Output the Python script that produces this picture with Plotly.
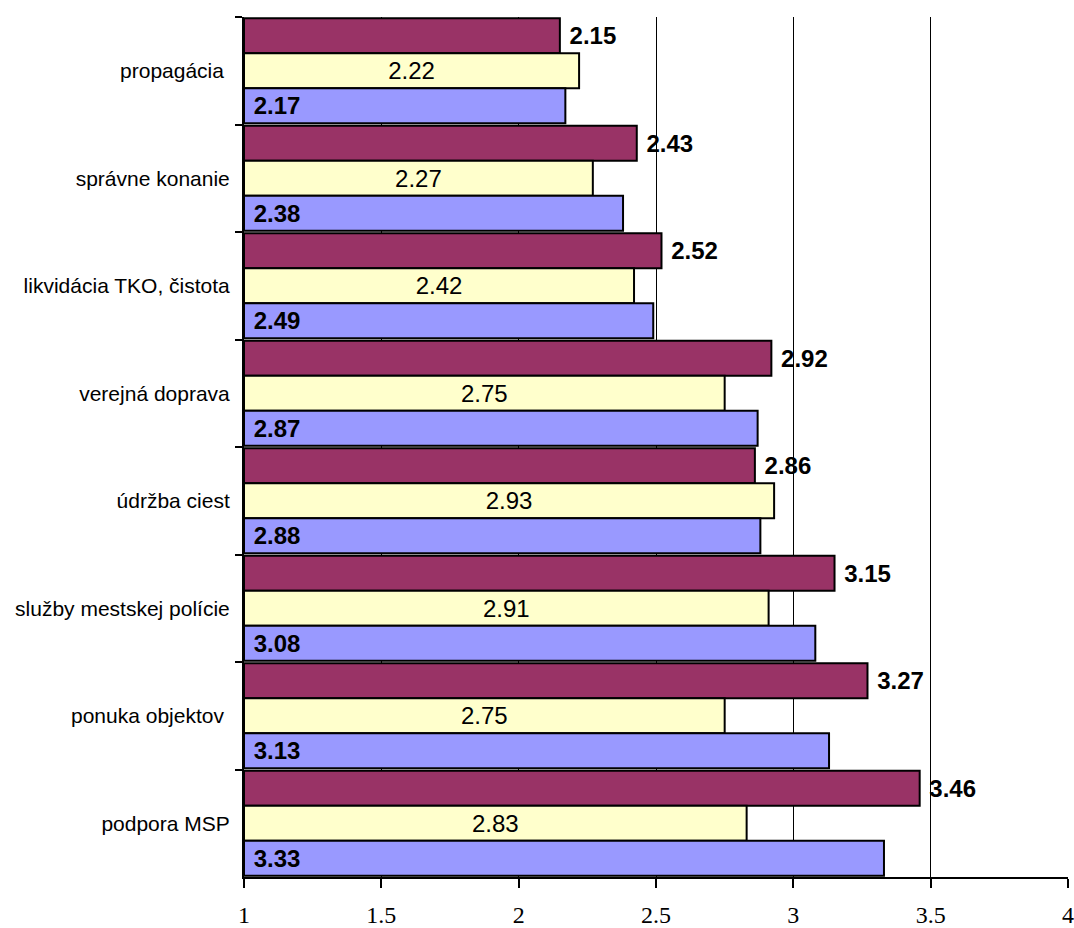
import plotly.graph_objects as go

categories = ["propagácia ", "správne konanie", "likvidácia TKO, čistota", "verejná doprava",
              "údržba ciest", "služby mestskej polície", "ponuka objektov ", "podpora MSP"]
series_maroon = [2.15, 2.43, 2.52, 2.92, 2.86, 3.15, 3.27, 3.46]
series_yellow = [2.22, 2.27, 2.42, 2.75, 2.93, 2.91, 2.75, 2.83]
series_blue = [2.17, 2.38, 2.49, 2.87, 2.88, 3.08, 3.13, 3.33]
x_ticks = [1, 1.5, 2, 2.5, 3, 3.5, 4]
x_tick_labels = ["1", "1.5", "2", "2.5", "3", "3.5", "4"]
axis_base = 1

fig = go.Figure()

def add(vals, color, pos, anchor, weight, tmpl):
    fig.add_trace(go.Bar(
        y=categories, x=[v - axis_base for v in vals], base=axis_base, orientation="h",
        marker=dict(color=color, line=dict(color="black", width=2)),
        text=[f"{v:.2f}" for v in vals], texttemplate=tmpl,
        textposition=pos, insidetextanchor=anchor,
        textfont=dict(family="Liberation Sans, Arial", size=24, color="black", weight=weight),
        constraintext="none", cliponaxis=False, showlegend=False,
    ))

add(series_maroon, "#993366", "outside", None, "bold", " %{text}")
add(series_yellow, "#FFFFCC", "inside", "middle", "normal", "%{text}")
add(series_blue, "#9999FF", "inside", "start", "bold", " %{text}")

fig.update_layout(
    width=1074, height=928,
    margin=dict(l=244, r=6, t=17, b=51),
    paper_bgcolor="white", plot_bgcolor="white",
    barmode="group", bargap=0.025, bargroupgap=0,
    xaxis=dict(range=[1, 4], tickvals=x_ticks, ticktext=x_tick_labels, automargin=False,
               ticklabeloverflow="allow", ticklabelstandoff=6,
               showgrid=True, gridcolor="black", gridwidth=1,
               showline=True, linecolor="black", linewidth=2,
               ticks="outside", ticklen=9, tickwidth=2, tickcolor="black",
               tickfont=dict(family="Liberation Serif", size=24, color="black"),
               zeroline=False, fixedrange=True),
    yaxis=dict(autorange="reversed", automargin=False, showline=True, linecolor="black", linewidth=2,
               ticks="outside", tickson="boundaries", ticklen=7, tickwidth=2, tickcolor="black",
               tickfont=dict(family="Liberation Sans, Arial", size=21, color="black"),
               ticklabelstandoff=8, showgrid=False),
)

fig.write_html("out.html", config={"displayModeBar": False},
               post_script="document.body.style.margin='0';document.body.style.overflow='hidden';")
